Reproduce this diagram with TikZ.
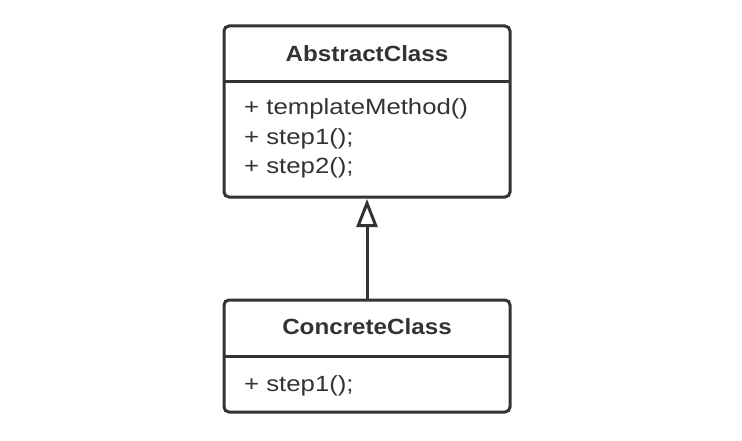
\documentclass[tikz,border=0pt]{standalone}
\usepackage{fontspec}
\setmainfont{Liberation Sans}
\newfontfamily\memberfont{Liberation Sans}[FakeStretch=1.17]
\newfontfamily\titlefont{Liberation Sans}[FakeStretch=1.1]
\usetikzlibrary{arrows.meta}
\definecolor{ink}{HTML}{333333}
\begin{document}
\begin{tikzpicture}[x=1pt,y=1pt,
  classbox/.style={draw=ink, line width=3pt, rounded corners=5pt, fill=white},
  divider/.style={draw=ink, line width=3pt},
  title/.style={text=ink, font=\titlefont\fontsize{22}{26}\selectfont\bfseries, inner sep=0pt},
  member/.style={text=ink, font=\memberfont\fontsize{22}{26}\selectfont, inner sep=0pt, anchor=base west},
  inherit/.style={draw=ink, line width=3pt, -{Triangle[open, length=28pt, width=21pt]}}]
\useasboundingbox (0,0) rectangle (742,440);

% abstract class
\path[classbox] (224,243) rectangle (510,414);
\coordinate (abs-s) at (367,243);
\draw[divider] (224,358) -- (510,358);
\node[title] (abs-title) at (367,386) {AbstractClass};
\node[member] (abs-m1) at (244,325) {+ templateMethod()};
\node[member] (abs-m2) at (244,295) {+ step1();};
\node[member] (abs-m3) at (244,266) {+ step2();};

% concrete class
\path[classbox] (224,28) rectangle (510,140);
\coordinate (con-n) at (367,140);
\draw[divider] (224,84) -- (510,84);
\node[title] (con-title) at (367,113) {ConcreteClass};
\node[member] (con-m1) at (244,49) {+ step1();};

% generalisation
\draw[inherit] (con-n) -- ([yshift=-2pt]abs-s);
\end{tikzpicture}
\end{document}
